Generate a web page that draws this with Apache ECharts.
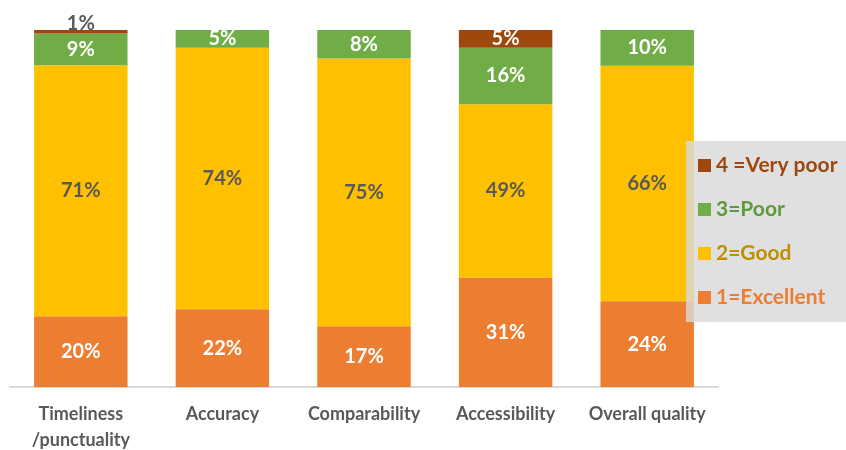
<!DOCTYPE html>
<html>
<head>
<meta charset="utf-8">
<script src="https://cdn.jsdelivr.net/npm/echarts@6/dist/echarts.min.js"></script>
<style>
  html, body { margin: 0; padding: 0; background: #fff; }
  #chart { width: 846px; height: 450px; }
</style>
</head>
<body>
<div id="chart"></div>
<script>
// categories and shares (percent, as labelled)
const categories = ['Timeliness\n/punctuality', 'Accuracy', 'Comparability', 'Accessibility', 'Overall quality'];
const excellent = [20, 22, 17, 31, 24];
const good = [71, 74, 75, 49, 66];
const poor = [9, 5, 8, 16, 10];
const veryPoor = [1, 0, 0, 5, 0];

const seriesNames = ['1=Excellent', '2=Good', '3=Poor', '4 =Very poor'];
const seriesColors = ['#ED7D31', '#FFC000', '#70AD47', '#9E480E'];
const legendTextColors = ['#ED7D31', '#BF9000', '#5E9A3B', '#9E480E'];
const labelColors = ['#ffffff', '#595959', '#ffffff', '#ffffff'];

const rows = [excellent, good, poor, veryPoor];
// 100% stacked, like the original: each bar is scaled to its own total
const totals = categories.map((c, i) => rows.reduce((s, r) => s + r[i], 0));

const font = 'Lato, "Open Sans", sans-serif';

const series = rows.map((row, k) => ({
  name: seriesNames[k],
  type: 'bar',
  stack: 'all',
  barWidth: '66%',
  itemStyle: { color: seriesColors[k] },
  label: {
    show: true,
    position: 'inside',
    color: labelColors[k],
    fontFamily: font,
    fontWeight: 'bold',
    fontSize: 20,
    formatter: p => p.data.raw + '%'
  },
  data: row.map((v, i) => {
    const item = { value: v === 0 ? null : v * 100 / totals[i], raw: v };
    if (v > 0 && v < 3) {
      item.label = { position: 'top', distance: -4, color: '#595959' };
    }
    return item;
  }),
  z: 2
}));

const chart = echarts.init(document.getElementById('chart'));
chart.setOption({
  animation: false,
  grid: { left: 10, right: 128, top: 30, bottom: 63, outerBoundsMode: 'none' },
  legend: {
    orient: 'vertical',
    left: 686,
    top: 141,
    width: 160,
    height: 181,
    padding: [14, 40, 14, 12],
    itemGap: 23,
    itemWidth: 13,
    itemHeight: 13,
    backgroundColor: 'rgba(217,217,217,0.82)',
    icon: 'rect',
    z: 10,
    data: [3, 2, 1, 0].map(k => ({
      name: seriesNames[k],
      textStyle: { color: legendTextColors[k] }
    })),
    textStyle: { fontFamily: font, fontWeight: 'bold', fontSize: 21 }
  },
  xAxis: {
    type: 'category',
    data: categories,
    axisLine: { lineStyle: { color: '#D9D9D9', width: 2 } },
    axisTick: { show: false },
    axisLabel: {
      interval: 0,
      color: '#595959',
      fontFamily: font,
      fontWeight: 'bold',
      fontSize: 18,
      lineHeight: 26,
      margin: 14
    }
  },
  yAxis: {
    type: 'value',
    min: 0,
    max: 100,
    show: false
  },
  series: series
});
</script>
</body>
</html>
